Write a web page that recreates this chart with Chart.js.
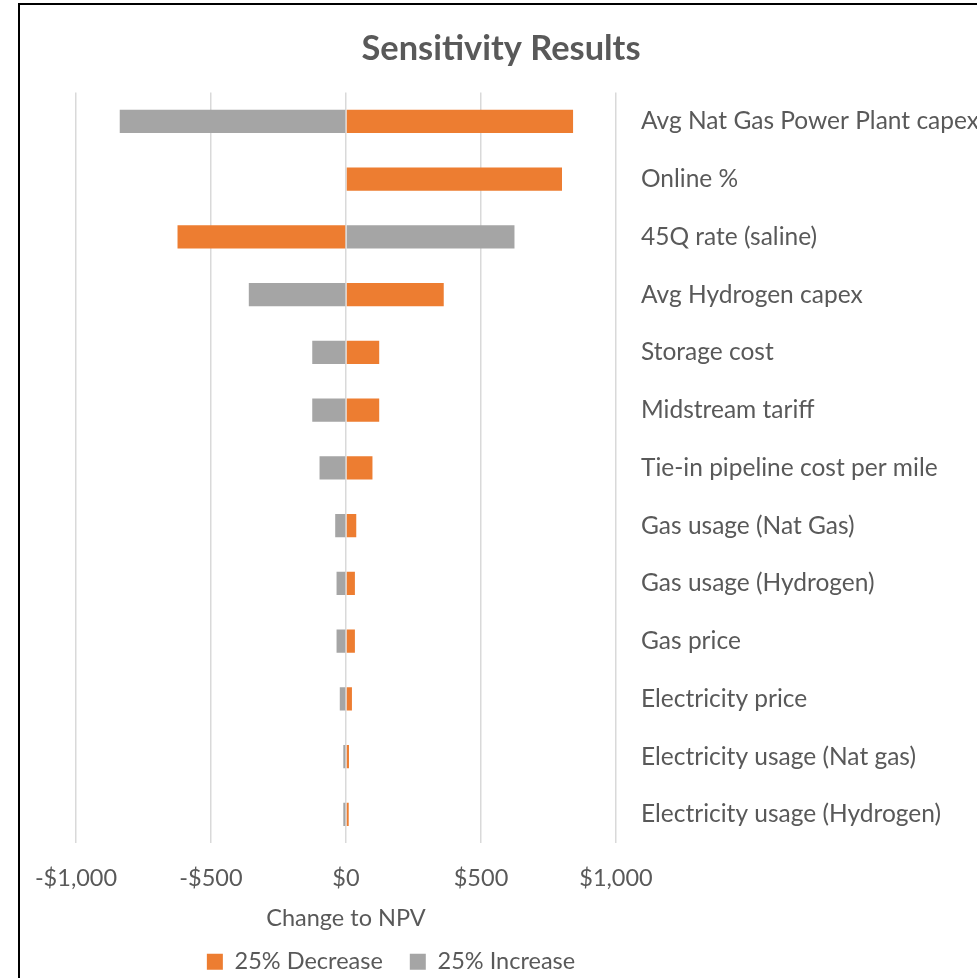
<!DOCTYPE html>
<html>
<head>
<meta charset="utf-8">
<title>Sensitivity Results</title>
<script src="https://cdn.jsdelivr.net/npm/chart.js@4"></script>
<style>
    html, body {
        margin: 0;
        padding: 0;
        background: #fff;
        overflow: hidden;
    }
    #chart-box {
        position: absolute;
        left: 18px;
        top: 3px;
        width: 962px;
        height: 1000px;
        border: 2px solid #000;
        background: #fff;
    }
</style>
</head>
<body>
<div id="chart-box">
    <canvas id="tornadoChart"></canvas>
</div>
<script>
// Sensitivity inputs, largest swing first
const categories = [
    'Avg Nat Gas Power Plant capex',
    'Online %',
    '45Q rate (saline)',
    'Avg Hydrogen capex',
    'Storage cost',
    'Midstream tariff',
    'Tie-in pipeline cost per mile',
    'Gas usage (Nat Gas)',
    'Gas usage (Hydrogen)',
    'Gas price',
    'Electricity price',
    'Electricity usage (Nat gas)',
    'Electricity usage (Hydrogen)'
];

// Change to NPV ($) for each input
const decreaseValues = [841, 800, -624, 362, 123, 123, 98, 38, 33, 33, 22, 11, 10];
const increaseValues = [-838, 0, 624, -360, -125, -125, -98, -40, -35, -35, -23, -10, -10];

const seriesNames = ['25% Decrease', '25% Increase'];
const npvTicks = [-1000, -500, 0, 500, 1000];

const textColor = '#595959';
const fontFamily = 'Lato, "Open Sans", sans-serif';

function money(v) {
    const s = '$' + Math.abs(v).toLocaleString('en-US');
    return v < 0 ? '-' + s : s;
}

// Legend sits a little right of the plot centre
const legendOffset = {
    id: 'legendOffset',
    afterLayout(chart) {
        const lg = chart.legend;
        const area = chart.chartArea;
        const target = (area.left + area.right) / 2 + 45;
        const dx = target - (lg.left + lg.right) / 2;
        lg.left += dx;
        lg.right += dx;
    }
};

const ctx = document.getElementById('tornadoChart').getContext('2d');

new Chart(ctx, {
    type: 'bar',
    data: {
        labels: categories,
        datasets: [
            {
                label: seriesNames[0],
                data: decreaseValues,
                backgroundColor: '#ED7D31',
                borderWidth: 0,
                barPercentage: 0.4,
                categoryPercentage: 1
            },
            {
                label: seriesNames[1],
                data: increaseValues,
                backgroundColor: '#A5A5A5',
                borderWidth: 0,
                barPercentage: 0.4,
                categoryPercentage: 1
            }
        ]
    },
    options: {
        indexAxis: 'y',
        responsive: true,
        maintainAspectRatio: false,
        animation: false,
        layout: {
            padding: { left: 0, right: 0, top: 0, bottom: 21.5 }
        },
        scales: {
            x: {
                stacked: true,
                min: -1000,
                max: 1000,
                afterBuildTicks: (scale) => {
                    scale.ticks = npvTicks.map(v => ({ value: v }));
                },
                afterFit: (scale) => {
                    scale.paddingLeft = 56;
                },
                grid: {
                    color: '#d9d9d9',
                    lineWidth: 1.5,
                    drawTicks: false
                },
                border: { display: false },
                ticks: {
                    padding: 21,
                    color: textColor,
                    font: { family: fontFamily, size: 23.5 },
                    callback: (v) => money(v)
                },
                title: {
                    display: true,
                    text: 'Change to NPV',
                    color: textColor,
                    font: { family: fontFamily, size: 23.5 },
                    padding: { top: -9.4, bottom: -9.3 }
                }
            },
            y: {
                stacked: true,
                position: 'right',
                afterFit: (scale) => {
                    scale.width = 366;
                },
                grid: { display: false, drawTicks: false },
                border: { display: false },
                ticks: {
                    padding: 25,
                    color: textColor,
                    font: { family: fontFamily, size: 24.5 }
                }
            }
        },
        plugins: {
            title: {
                display: true,
                text: 'Sensitivity Results',
                color: textColor,
                font: { family: fontFamily, size: 34.4, weight: 'bold' },
                padding: { top: 23, bottom: 23.2 }
            },
            legend: {
                position: 'bottom',
                labels: {
                    boxWidth: 16,
                    boxHeight: 16,
                    padding: 27,
                    color: textColor,
                    font: { family: fontFamily, size: 23.5 }
                }
            },
            tooltip: { enabled: false }
        }
    },
    plugins: [legendOffset]
});
</script>
</body>
</html>
